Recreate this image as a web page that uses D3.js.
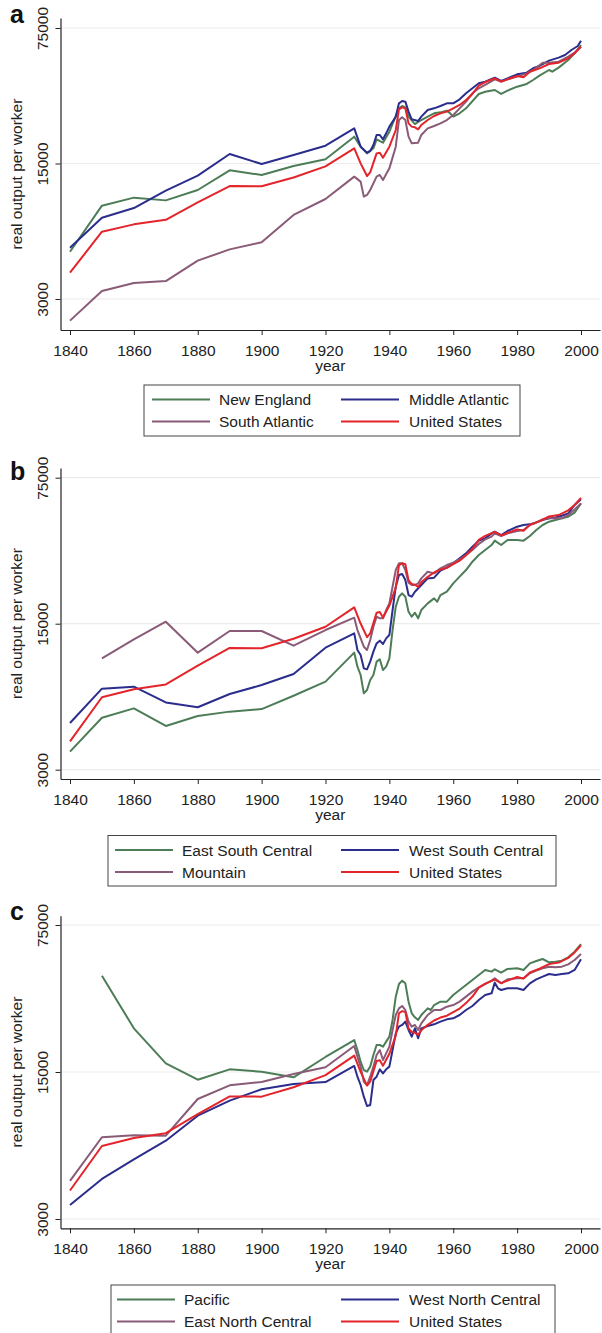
<!DOCTYPE html>
<html>
<head>
<meta charset="utf-8">
<script src="https://cdn.jsdelivr.net/npm/d3@7"></script>
<style>
  body { margin: 0; background: #fff; }
  svg { display: block; font-family: "Liberation Sans", Arial, sans-serif; }
</style>
</head>
<body>
<svg id="chart" width="602" height="1333"></svg>
<script>
// y-axis ticks (log scale) and x-axis ticks
const yTicks = [3000, 15000, 75000];
const xTicks = [1840, 1860, 1880, 1900, 1920, 1940, 1960, 1980, 2000];

// United States series, shared by all panels
const unitedStates = [[1840,4100],[1850,6670],[1860,7280],[1870,7680],[1880,9450],[1890,11480],[1900,11450],[1910,12700],[1920,14500],[1929,17960],[1931,15030],[1933,12930],[1934,13500],[1936,16920],[1937,17060],[1938,16070],[1940,18320],[1942,22330],[1943,28550],[1944,29220],[1945,28890],[1946,24170],[1947,23240],[1948,23050],[1949,22510],[1950,23700],[1952,25140],[1954,26370],[1956,27230],[1958,27780],[1960,28890],[1962,30060],[1964,31890],[1966,34260],[1968,37800],[1970,39480],[1973,41250],[1975,39660],[1977,40770],[1980,42420],[1982,41760],[1984,44640],[1987,46470],[1990,48900],[1993,49680],[1996,52320],[1998,55530],[2000,60090]];

// panel a
const newEngland = [[1840,5260],[1850,9090],[1860,10000],[1870,9680],[1880,10950],[1890,13830],[1900,13090],[1910,14560],[1920,15770],[1929,20630],[1931,18320],[1933,16920],[1935,17960],[1936,19990],[1938,19210],[1940,21890],[1943,28890],[1944,29700],[1945,29220],[1946,26160],[1948,23970],[1950,25140],[1952,26160],[1954,27230],[1956,27540],[1958,28110],[1959,27230],[1960,26160],[1962,27230],[1964,28890],[1968,34260],[1970,35190],[1973,35910],[1975,34260],[1977,35640],[1980,37350],[1983,38580],[1985,40440],[1987,42600],[1990,45540],[1991,44640],[1993,46830],[1996,51300],[1998,55530],[2000,61290]];
const middleAtlantic = [[1840,5520],[1850,7880],[1860,8840],[1870,10870],[1880,12980],[1890,16790],[1900,14910],[1910,16600],[1920,18530],[1929,22780],[1931,18320],[1933,17060],[1934,17400],[1935,18690],[1936,21050],[1937,21050],[1938,19990],[1939,21470],[1940,23240],[1942,26160],[1943,30660],[1944,31500],[1945,31260],[1946,27780],[1947,25350],[1949,24840],[1950,26160],[1952,28320],[1954,28890],[1956,29700],[1958,30660],[1960,30660],[1962,32160],[1964,34530],[1966,36630],[1968,38880],[1970,39660],[1973,41580],[1975,39960],[1977,41250],[1980,43260],[1983,44130],[1985,46470],[1987,47760],[1990,50880],[1993,52740],[1995,54420],[1997,57750],[1999,60570],[2000,64530]];
const southAtlantic = [[1840,2320],[1850,3300],[1860,3630],[1870,3710],[1880,4730],[1890,5410],[1900,5880],[1910,8140],[1920,9840],[1929,12830],[1931,12090],[1932,10120],[1933,10320],[1934,10950],[1936,12830],[1937,13090],[1938,12330],[1940,14160],[1942,18320],[1943,25140],[1944,25950],[1945,25140],[1946,20630],[1947,19060],[1949,19210],[1950,21050],[1952,22780],[1954,23430],[1956,24170],[1958,25140],[1960,26690],[1962,28890],[1964,31260],[1966,34530],[1968,36630],[1970,38130],[1973,40770],[1975,39660],[1977,40770],[1980,42090],[1983,43770],[1985,45540],[1988,49680],[1990,49680],[1993,50280],[1996,53370],[1998,55950],[2000,60090]];

// panel b
const eastSouthCentral = [[1840,3660],[1850,5320],[1860,5900],[1870,4860],[1880,5420],[1890,5690],[1900,5850],[1910,6780],[1920,7920],[1929,10900],[1930,9340],[1931,8520],[1932,6960],[1933,7220],[1934,8060],[1935,8520],[1936,9870],[1937,10130],[1938,9000],[1939,9340],[1940,10240],[1941,13990],[1942,18090],[1943,20200],[1944,20960],[1945,20200],[1946,17120],[1947,16200],[1948,16930],[1949,15910],[1950,17440],[1952,18770],[1954,19830],[1955,19120],[1956,20570],[1958,21340],[1960,23390],[1962,25190],[1964,27100],[1966,29700],[1968,31980],[1970,33780],[1972,35700],[1973,37470],[1975,35700],[1977,37740],[1980,37740],[1982,37470],[1984,39420],[1986,42120],[1988,44520],[1990,46170],[1992,47040],[1994,47910],[1996,48780],[1998,51000],[2000,56520]];
const westSouthCentral = [[1840,5020],[1850,7330],[1860,7490],[1870,6300],[1880,5970],[1890,6910],[1900,7630],[1910,8610],[1920,11520],[1929,13490],[1930,11220],[1931,10620],[1932,9170],[1933,9070],[1934,9870],[1935,11020],[1936,12070],[1937,12440],[1938,11990],[1939,12760],[1940,13240],[1941,17440],[1942,22550],[1943,25650],[1944,25940],[1945,24270],[1946,20570],[1947,20200],[1948,21340],[1950,22970],[1952,24720],[1954,24910],[1956,26910],[1958,27810],[1960,29170],[1962,30810],[1964,32580],[1966,35040],[1968,37470],[1970,38430],[1972,40590],[1973,41340],[1975,39870],[1977,41670],[1980,43710],[1982,44520],[1984,44850],[1986,45840],[1988,47040],[1990,47910],[1992,48420],[1994,49320],[1996,50610],[1998,55500],[2000,59070]];
const mountain = [[1850,10240],[1860,12620],[1870,15330],[1880,10900],[1890,13840],[1900,13840],[1910,11770],[1920,13990],[1929,16030],[1930,13990],[1931,12760],[1932,11640],[1933,11220],[1934,12530],[1935,14510],[1936,16200],[1937,15910],[1938,15910],[1939,17440],[1940,18770],[1941,22550],[1942,27100],[1943,29170],[1944,29170],[1945,27100],[1946,23570],[1947,22970],[1948,22970],[1949,23390],[1950,24720],[1952,26610],[1954,26130],[1956,27610],[1958,28640],[1960,29390],[1962,30480],[1964,31980],[1966,33780],[1968,36090],[1970,38010],[1972,39150],[1973,40590],[1975,39420],[1977,40590],[1980,41670],[1982,42120],[1984,44520],[1986,45660],[1988,47370],[1990,47910],[1992,47910],[1994,47910],[1996,49710],[1998,52890],[2000,56520]];

// panel c
const pacific = [[1850,43050],[1860,24190],[1870,16490],[1880,13790],[1890,15440],[1900,15050],[1910,14150],[1920,17680],[1929,21290],[1930,19090],[1931,16800],[1932,15330],[1933,15060],[1934,15910],[1935,18070],[1936,20160],[1937,20160],[1938,19790],[1939,20910],[1940,22090],[1941,26510],[1942,34230],[1943,39300],[1944,40770],[1945,39600],[1946,32400],[1947,28510],[1948,27290],[1949,26510],[1950,28000],[1952,30120],[1953,29570],[1954,31230],[1956,32400],[1958,32400],[1960,34860],[1962,36810],[1964,38880],[1966,41070],[1968,43380],[1970,45840],[1972,45000],[1973,46170],[1975,44520],[1977,46350],[1980,46680],[1982,45840],[1984,49290],[1986,50580],[1988,51690],[1990,49830],[1992,50220],[1994,50760],[1996,52650],[1998,56010],[2000,60900]];
const eastNorthCentral = [[1840,4550],[1850,7340],[1860,7500],[1870,7470],[1880,11160],[1890,12960],[1900,13440],[1910,14670],[1920,15790],[1929,19940],[1930,17740],[1931,15910],[1932,13490],[1933,13010],[1934,14250],[1935,15910],[1936,18070],[1937,19090],[1938,17110],[1939,18400],[1940,19790],[1941,23760],[1942,28000],[1943,30120],[1944,30900],[1945,29570],[1946,26030],[1947,24640],[1948,25100],[1949,23760],[1950,25560],[1952,28000],[1954,29570],[1956,29570],[1958,30660],[1960,31230],[1962,32400],[1964,34230],[1966,36150],[1968,37920],[1970,39300],[1972,40770],[1973,41820],[1975,39600],[1977,41370],[1980,41820],[1982,41820],[1984,44190],[1986,45510],[1988,46680],[1990,47520],[1992,47190],[1994,47520],[1996,48750],[1998,51120],[2000,54600]];
const westNorthCentral = [[1840,3500],[1850,4650],[1860,5760],[1870,7070],[1880,9300],[1890,10960],[1900,12410],[1910,13150],[1920,13440],[1929,16020],[1930,14250],[1931,13010],[1932,11450],[1933,10340],[1934,10450],[1935,13740],[1936,14250],[1937,15450],[1938,14780],[1939,15450],[1940,15910],[1941,19090],[1942,22900],[1943,24640],[1944,25100],[1945,26030],[1946,23760],[1947,22090],[1948,24190],[1949,21690],[1950,24190],[1952,24820],[1954,25280],[1956,26030],[1958,26700],[1960,26990],[1962,28000],[1964,29570],[1966,30900],[1968,33000],[1970,34860],[1972,35490],[1973,39900],[1974,37500],[1975,36810],[1977,37500],[1980,37500],[1982,36810],[1984,39600],[1986,41370],[1988,42600],[1990,43860],[1992,43380],[1994,43860],[1996,44190],[1998,45840],[2000,51510]];

const colors = { green: "#4d7d57", blue: "#2b2d8c", purple: "#8a5b77", red: "#e3242b" };

// panel layout: pixel rows of the 3000 / 75000 ticks, axis extents and legend box
const panels = [
  { label: "a", y3000: 299, y75000: 28, top: 18, bottom: 330, labelY: 23,
    legend: { x0: 144, x1: 520, y0: 385, y1: 436, sw: 152 },
    series: [
      { name: "New England", data: newEngland, color: colors.green },
      { name: "Middle Atlantic", data: middleAtlantic, color: colors.blue },
      { name: "South Atlantic", data: southAtlantic, color: colors.purple },
      { name: "United States", data: unitedStates, color: colors.red }
    ] },
  { label: "b", y3000: 769.7, y75000: 477.7, top: 468, bottom: 779, labelY: 480,
    legend: { x0: 108, x1: 556, y0: 835.5, y1: 886, sw: 115 },
    series: [
      { name: "East South Central", data: eastSouthCentral, color: colors.green },
      { name: "West South Central", data: westSouthCentral, color: colors.blue },
      { name: "Mountain", data: mountain, color: colors.purple },
      { name: "United States", data: unitedStates, color: colors.red }
    ] },
  { label: "c", y3000: 1219, y75000: 925, top: 915.7, bottom: 1228.3, labelY: 920,
    legend: { x0: 111, x1: 555, y0: 1285, y1: 1345, sw: 117 },
    series: [
      { name: "Pacific", data: pacific, color: colors.green },
      { name: "West North Central", data: westNorthCentral, color: colors.blue },
      { name: "East North Central", data: eastNorthCentral, color: colors.purple },
      { name: "United States", data: unitedStates, color: colors.red }
    ] }
];

const svg = d3.select("#chart");
const fontSize = "15.5px";

// x scale shared by all panels, then stretched to the axis line extents
const x = d3.scaleLinear().domain([1840, 2000]).range([70, 581]);
const xLeft = 60.5, xRight = 600;
x.domain([x.invert(xLeft), x.invert(xRight)]).range([xLeft, xRight]);

panels.forEach(p => {
  const g = svg.append("g");

  const y = d3.scaleLog().domain([3000, 75000]).range([p.y3000, p.y75000]);
  y.domain([y.invert(p.bottom), y.invert(p.top)]).range([p.bottom, p.top]);

  // gridlines
  g.selectAll(".grid")
    .data(yTicks)
    .join("line")
    .attr("x1", xLeft).attr("x2", xRight)
    .attr("y1", d => y(d)).attr("y2", d => y(d))
    .attr("stroke", "#ececec")
    .attr("stroke-width", 1.2);

  // x axis
  const xAxis = g.append("g")
    .attr("transform", `translate(0,${p.bottom})`)
    .call(d3.axisBottom(x).tickValues(xTicks).tickFormat(d3.format("d")).tickSize(5).tickSizeOuter(0).tickPadding(6));
  xAxis.select(".domain").attr("stroke", "#222").attr("stroke-width", 1.2);
  xAxis.selectAll(".tick line").attr("stroke", "#222");
  xAxis.selectAll("text").attr("font-size", fontSize).attr("fill", "#222")
    .attr("dy", null).attr("y", 26);

  // y axis
  const yAxis = g.append("g")
    .attr("transform", `translate(${xLeft},0)`)
    .call(d3.axisLeft(y).tickValues(yTicks).tickFormat(d3.format("d")).tickSize(5).tickSizeOuter(0));
  yAxis.select(".domain").attr("stroke", "#222").attr("stroke-width", 1.2);
  yAxis.selectAll(".tick line").attr("stroke", "#222");
  yAxis.selectAll("text")
    .attr("font-size", fontSize).attr("fill", "#222")
    .attr("x", null).attr("dy", null)
    .attr("text-anchor", "middle")
    .attr("transform", "translate(-13,0) rotate(-90)");

  // axis titles
  g.append("text")
    .attr("transform", `translate(16,${(p.top + p.bottom) / 2}) rotate(-90)`)
    .attr("text-anchor", "middle")
    .attr("dominant-baseline", "central")
    .attr("font-size", fontSize).attr("fill", "#222")
    .text("real output per worker");

  g.append("text")
    .attr("x", (xLeft + xRight) / 2)
    .attr("y", p.bottom + 41)
    .attr("text-anchor", "middle")
    .attr("font-size", fontSize).attr("fill", "#222")
    .text("year");

  // panel letter
  g.append("text")
    .attr("x", 10).attr("y", p.labelY)
    .attr("font-size", "25px").attr("font-weight", "bold").attr("fill", "#111")
    .text(p.label);

  // series lines
  const line = d3.line().x(d => x(d[0])).y(d => y(d[1]));
  g.selectAll(".series")
    .data(p.series)
    .join("path")
    .attr("d", d => line(d.data))
    .attr("fill", "none")
    .attr("stroke", d => d.color)
    .attr("stroke-width", 2)
    .attr("stroke-linejoin", "round");

  // legend
  const L = p.legend;
  g.append("rect")
    .attr("x", L.x0).attr("y", L.y0)
    .attr("width", L.x1 - L.x0).attr("height", L.y1 - L.y0)
    .attr("fill", "#fff").attr("stroke", "#444").attr("stroke-width", 1);

  const cols = [{ sx: L.sw, tx: L.sw + 67 }, { sx: 341, tx: 409 }];
  const rows = [L.y0 + 14.5, L.y0 + 36.5];
  p.series.forEach((s, i) => {
    const c = cols[i % 2], r = rows[Math.floor(i / 2)];
    g.append("line")
      .attr("x1", c.sx).attr("x2", c.sx + 58)
      .attr("y1", r).attr("y2", r)
      .attr("stroke", s.color).attr("stroke-width", 2);
    g.append("text")
      .attr("x", c.tx).attr("y", r + 5.5)
      .attr("font-size", fontSize).attr("fill", "#222")
      .text(s.name);
  });
});
</script>
</body>
</html>
